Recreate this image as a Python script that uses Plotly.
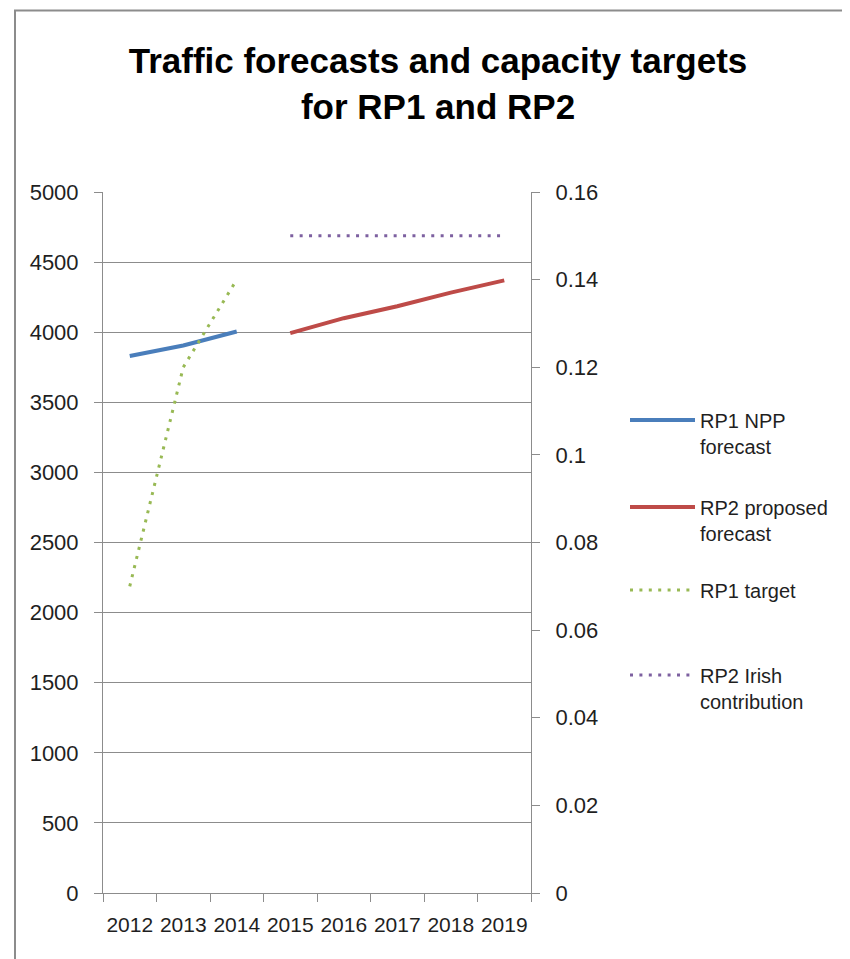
import plotly.graph_objects as go

years = ["2012", "2013", "2014", "2015", "2016", "2017", "2018", "2019"]

rp1_years = ["2012", "2013", "2014"]
rp1_npp_forecast = [3830, 3905, 4005]
rp1_target = [0.07, 0.12, 0.14]

rp2_years = ["2015", "2016", "2017", "2018", "2019"]
rp2_proposed_forecast = [3993, 4100, 4185, 4282, 4370]
rp2_irish_contribution = [0.15, 0.15, 0.15, 0.15, 0.15]

BLUE = "#4A7EBB"
RED = "#BE4B48"
GREEN = "#98B954"
PURPLE = "#7D60A0"
GRID = "#8C8C8C"
TXT = "#1F1F1F"
DOTS = "3px,6.4px"

fig = go.Figure()

fig.add_trace(go.Scatter(
    x=rp1_years, y=rp1_npp_forecast, mode="lines",
    name="RP1 NPP<br>forecast", legend="legend",
    line=dict(color=BLUE, width=4),
))
fig.add_trace(go.Scatter(
    x=rp2_years, y=rp2_proposed_forecast, mode="lines",
    name="RP2 proposed<br>forecast", legend="legend2",
    line=dict(color=RED, width=4),
))
fig.add_trace(go.Scatter(
    x=rp1_years, y=rp1_target, mode="lines", yaxis="y2",
    name="RP1 target", legend="legend3",
    line=dict(color=GREEN, width=3, dash=DOTS),
))
fig.add_trace(go.Scatter(
    x=rp2_years, y=rp2_irish_contribution, mode="lines", yaxis="y2",
    name="RP2 Irish<br>contribution", legend="legend4",
    line=dict(color=PURPLE, width=3, dash=DOTS),
))

# page has an 8px body margin; plot area on the page: x 103..531, y 192..893
def px_x(px):
    return (px - 103) / 428

def px_y(py):
    return (893 - py) / 701

leg = dict(
    xanchor="left", yanchor="middle", x=px_x(625),
    valign="top",
    font=dict(family="Liberation Sans, Arial", size=20, color=TXT),
    itemwidth=65, bgcolor="rgba(0,0,0,0)", borderwidth=0,
)

fig.update_layout(
    width=850,
    height=959,
    margin=dict(l=95, r=327, t=184, b=74),
    paper_bgcolor="white",
    plot_bgcolor="white",
    font=dict(family="Liberation Sans, Arial", size=20, color=TXT),
    title=dict(
        text="<b>Traffic forecasts and capacity targets<br>for RP1 and RP2</b>",
        x=430 / 850, xanchor="center",
        y=1 - 65 / 959, yanchor="middle",
        font=dict(family="Liberation Sans, Arial", size=35, color="black"),
    ),
    showlegend=True,
    legend=dict(leg, y=px_y(433)),
    legend2=dict(leg, y=px_y(520)),
    legend3=dict(leg, y=px_y(590)),
    legend4=dict(leg, y=px_y(688)),
    xaxis=dict(
        type="category",
        categoryorder="array",
        categoryarray=years,
        range=[-0.5, 7.5],
        tickson="boundaries",
        ticks="outside",
        ticklen=8,
        tickcolor=GRID,
        tickangle=0,
        ticklabelstandoff=13,
        showline=True,
        linecolor=GRID,
        linewidth=1,
        showgrid=False,
        tickfont=dict(size=21, color=TXT),
    ),
    yaxis=dict(
        range=[0, 5000],
        dtick=500,
        ticks="outside",
        ticklen=8,
        tickcolor=GRID,
        ticklabelstandoff=11,
        showline=True,
        linecolor=GRID,
        showgrid=True,
        gridcolor=GRID,
        gridwidth=1,
        zeroline=False,
        tickfont=dict(size=22, color=TXT),
    ),
    yaxis2=dict(
        range=[0, 0.16],
        dtick=0.02,
        overlaying="y",
        side="right",
        ticks="outside",
        ticklen=8,
        tickcolor=GRID,
        ticklabelstandoff=11,
        showline=True,
        linecolor=GRID,
        showgrid=False,
        zeroline=False,
        tickfont=dict(size=22, color=TXT),
    ),
    shapes=[
        dict(
            type="rect", xref="paper", yref="paper",
            x0=px_x(15), x1=px_x(900), y0=px_y(1000), y1=px_y(10.5),
            line=dict(color="#8C8C8C", width=2), layer="below",
        )
    ],
)

fig.write_html("out.html")
